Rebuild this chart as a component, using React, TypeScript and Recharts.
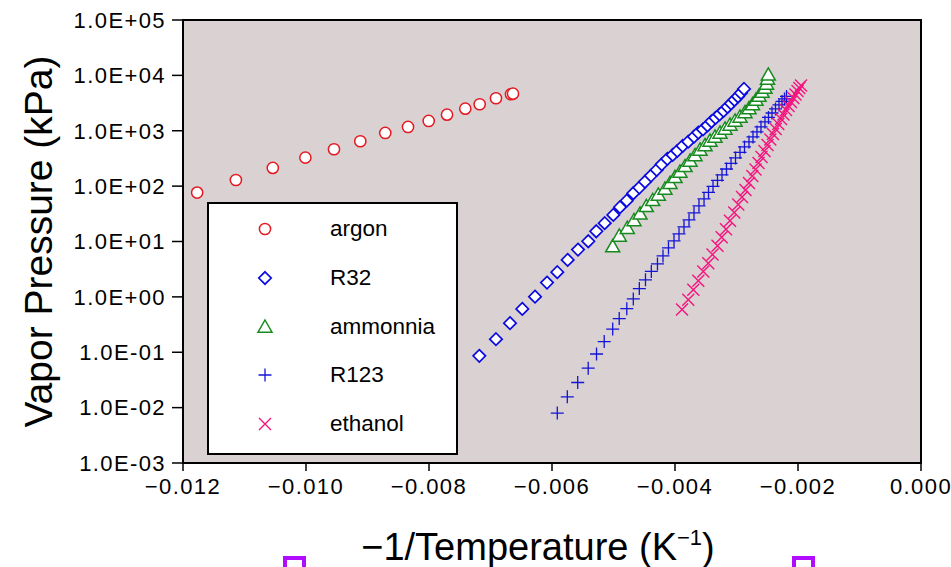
import React from 'react'
import { ScatterChart, Scatter, XAxis, YAxis, ReferenceArea, Legend } from 'recharts'

// 蒸気圧 vs -1/T（片対数）
const FONT = '"Liberation Sans", Arial, Helvetica, sans-serif'

const X_TICKS = [-0.012, -0.01, -0.008, -0.006, -0.004, -0.002, 0]
const Y_TICKS = [1e-3, 1e-2, 1e-1, 1, 1e1, 1e2, 1e3, 1e4, 1e5]

const argonX = [-0.01177, -0.01114, -0.01054, -0.01001, -0.009545, -0.009117, -0.008711, -0.008341, -0.008005, -0.007707, -0.00741, -0.007176, -0.006911, -0.006667, -0.006634]
const argonP = [76.4, 129, 213, 327, 463, 646, 912, 1171, 1503, 1953, 2506, 3009, 3860, 4560, 4674]

const r32X = [-0.007182, -0.006911, -0.006683, -0.006483, -0.006276, -0.006081, -0.005914, -0.005745, -0.005577, -0.00541, -0.00528, -0.005143, -0.005003, -0.004894, -0.004785, -0.004678, -0.00458, -0.004488, -0.00439, -0.004298, -0.004216, -0.004125, -0.004037, -0.003963, -0.003875, -0.003784, -0.003691, -0.003621, -0.003545, -0.003472, -0.003407, -0.003341, -0.003276, -0.003211, -0.003146, -0.003089, -0.003033, -0.002976, -0.002927, -0.002878]
const r32P = [0.0861, 0.172, 0.335, 0.607, 1.01, 1.81, 2.79, 4.65, 7.14, 10.1, 15.3, 21.4, 30.2, 41.6, 54.7, 74.4, 94, 120, 155, 196, 248, 310, 366, 432, 532, 635, 783, 925, 1055, 1247, 1472, 1702, 1969, 2277, 2690, 3110, 3597, 4159, 4810, 5685]

const ammoniaX = [-0.005013, -0.004906, -0.004776, -0.004667, -0.004569, -0.004467, -0.004363, -0.004272, -0.004163, -0.004081, -0.004, -0.003919, -0.003837, -0.003756, -0.003675, -0.003593, -0.003512, -0.003431, -0.00335, -0.003268, -0.003187, -0.003106, -0.003024, -0.002943, -0.002862, -0.002797, -0.00274, -0.002683, -0.002634, -0.002585, -0.002537, -0.002512, -0.002496, -0.002483]
const ammoniaP = [8.09, 12.6, 17.4, 24.0, 31.5, 43.0, 55.2, 69.3, 88.9, 113, 144, 180, 227, 285, 358, 450, 543, 655, 773, 912, 1077, 1273, 1503, 1775, 2140, 2527, 2984, 3597, 4246, 5012, 5929, 7000, 8610, 10200]

const r123X = [-0.005914, -0.005751, -0.005582, -0.005411, -0.005276, -0.005151, -0.005013, -0.004907, -0.004784, -0.004678, -0.00458, -0.00448, -0.004385, -0.004285, -0.004195, -0.004106, -0.004016, -0.003935, -0.003854, -0.003772, -0.003691, -0.00361, -0.003528, -0.003455, -0.003382, -0.003309, -0.003236, -0.003163, -0.003089, -0.003016, -0.002943, -0.00287, -0.002797, -0.002732, -0.002667, -0.002602, -0.002537, -0.00248, -0.002423, -0.002366, -0.002309, -0.00226, -0.00222, -0.002187]
const r123P = [0.00796, 0.0157, 0.0284, 0.0516, 0.0929, 0.156, 0.262, 0.406, 0.612, 0.92, 1.41, 2.03, 2.88, 3.94, 5.5, 7.66, 10.3, 13.7, 18.4, 24.5, 32.8, 44.0, 58.7, 76.9, 98.8, 127, 159, 204, 257, 323, 406, 510, 628, 773, 951, 1171, 1442, 1738, 2094, 2477, 2924, 3381, 3750, 4159]

const ethanolX = [-0.003886, -0.003784, -0.003702, -0.003621, -0.00354, -0.003459, -0.00339, -0.003309, -0.003241, -0.003171, -0.003106, -0.003036, -0.002971, -0.00291, -0.002854, -0.002797, -0.002743, -0.002691, -0.002642, -0.002593, -0.002545, -0.002496, -0.00245, -0.002407, -0.002363, -0.00232, -0.002276, -0.002236, -0.002195, -0.002154, -0.002114, -0.002076, -0.002041, -0.002008, -0.001979, -0.001951]
const ethanolP = [0.59, 0.883, 1.34, 1.96, 2.86, 4.06, 5.81, 8.4, 11.9, 16.7, 23.7, 33.5, 46.8, 63.8, 85.4, 114, 153, 200, 262, 337, 432, 555, 697, 875, 1077, 1327, 1633, 1968, 2371, 2805, 3311, 3908, 4519, 5228, 5929, 6577]

type Kind = 'circle' | 'diamond' | 'triangle' | 'plus' | 'cross'

const zip = (xs: number[], ps: number[]) => xs.map((x, i) => ({ x, y: ps[i] }))

const SERIES: { name: string; kind: Kind; color: string; data: { x: number; y: number }[] }[] = [
  { name: 'argon',    kind: 'circle',   color: '#e41a22', data: zip(argonX, argonP) },
  { name: 'R32',      kind: 'diamond',  color: '#0a0ae0', data: zip(r32X, r32P) },
  { name: 'ammonnia', kind: 'triangle', color: '#168a1e', data: zip(ammoniaX, ammoniaP) },
  { name: 'R123',     kind: 'plus',     color: '#1414d8', data: zip(r123X, r123P) },
  { name: 'ethanol',  kind: 'cross',    color: '#f5147e', data: zip(ethanolX, ethanolP) },
]

function Marker({ kind, color, cx, cy }: { kind: Kind; color: string; cx: number; cy: number }) {
  if (cx == null || cy == null || isNaN(cx) || isNaN(cy)) return null
  switch (kind) {
    case 'circle':
      return <circle cx={cx} cy={cy} r={5.6} fill="#fff" stroke={color} strokeWidth={1.5} />
    case 'diamond':
      return <path d={`M${cx},${cy - 6.2}L${cx + 6.2},${cy}L${cx},${cy + 6.2}L${cx - 6.2},${cy}Z`} fill="#fff" stroke={color} strokeWidth={1.7} />
    case 'triangle':
      return <path d={`M${cx},${cy - 7}L${cx + 7},${cy + 5.2}L${cx - 7},${cy + 5.2}Z`} fill="#fff" stroke={color} strokeWidth={1.5} />
    case 'plus':
      return <path d={`M${cx - 6.5},${cy}H${cx + 6.5}M${cx},${cy - 6.5}V${cy + 6.5}`} stroke={color} strokeWidth={1.3} fill="none" />
    default:
      return <path d={`M${cx - 6},${cy - 6}L${cx + 6},${cy + 6}M${cx - 6},${cy + 6}L${cx + 6},${cy - 6}`} stroke={color} strokeWidth={1.4} fill="none" />
  }
}

const fmtY = (v: number) => {
  const e = Math.round(Math.log10(v))
  return `1.0E${e < 0 ? '-' : '+'}${String(Math.abs(e)).padStart(2, '0')}`
}
const fmtX = (v: number) => (v === 0 ? '0.000' : '\u2212' + Math.abs(v).toFixed(3))

const renderLegend = () => (
  <div style={{ width: 251, height: 253, boxSizing: 'border-box', border: '2px solid #000', background: '#fff', fontFamily: FONT }}>
    {SERIES.map((s, i) => (
      <div key={s.name} style={{ position: 'absolute', left: 0, top: 27 + i * 48.8 - 14, height: 28, width: 251, display: 'flex', alignItems: 'center' }}>
        <svg width={20} height={20} style={{ position: 'absolute', left: 48 }}>
          <Marker kind={s.kind} color={s.color} cx={10} cy={10} />
        </svg>
        <span style={{ position: 'absolute', left: 123, fontSize: 22.5, color: '#000', lineHeight: '28px' }}>{s.name}</span>
      </div>
    ))}
  </div>
)

export default function App() {
  return (
    <div style={{ position: 'absolute', left: 0, top: 0, width: 951, height: 567, background: '#fff', fontFamily: FONT, overflow: 'hidden' }}>
      <ScatterChart width={951} height={567} margin={{ top: 20, right: 30, bottom: 0, left: 0 }} style={{ fontFamily: FONT }}>
        <XAxis
          type="number"
          dataKey="x"
          domain={[-0.012, 0]}
          ticks={X_TICKS}
          tickFormatter={fmtX}
          height={104}
          allowDataOverflow
          axisLine={{ stroke: '#000', strokeWidth: 2 }}
          tickLine={{ stroke: '#000', strokeWidth: 1.5 }}
          tickSize={8}
          tickMargin={7}
          tick={{ fill: '#000', fontSize: 22, letterSpacing: 1.4 }}
          label={({ viewBox }: any) => (
            <text x={viewBox.x + viewBox.width / 2 - 14} y={viewBox.y + 97} textAnchor="middle" fontSize={38} fill="#000" fontFamily={FONT}>
              {'\u22121/Temperature (K'}
              <tspan fontSize={22} dy={-15}>{'\u22121'}</tspan>
              <tspan dy={15}>)</tspan>
            </text>
          )}
        />
        <YAxis
          type="number"
          dataKey="y"
          scale="log"
          domain={[1e-3, 1e5]}
          ticks={Y_TICKS}
          tickFormatter={fmtY}
          width={183}
          allowDataOverflow
          axisLine={{ stroke: '#000', strokeWidth: 2 }}
          tickLine={{ stroke: '#000', strokeWidth: 1.5 }}
          tickSize={11}
          tickMargin={6}
          tick={{ fill: '#000', fontSize: 22, letterSpacing: 1.4 }}
          label={({ viewBox }: any) => (
            <text x={52} y={viewBox.y + viewBox.height / 2} transform={`rotate(-90 52 ${viewBox.y + viewBox.height / 2})`} textAnchor="middle" fontSize={39} fill="#000" fontFamily={FONT}>
              Vapor Pressure (kPa)
            </text>
          )}
        />
        <ReferenceArea x1={-0.012} x2={0} y1={1e-3} y2={1e5} fill="#d9d1d2" fillOpacity={1} stroke="#000" strokeWidth={2} ifOverflow="visible" />
        {SERIES.map((s) => (
          <Scatter
            key={s.name}
            name={s.name}
            data={s.data}
            isAnimationActive={false}
            shape={(p: any) => <Marker kind={s.kind} color={s.color} cx={p.cx} cy={p.cy} />}
          />
        ))}
        <Legend
          layout="vertical"
          align="center"
          verticalAlign="middle"
          content={renderLegend}
          wrapperStyle={{ left: 207, top: 202, width: 251, height: 253 }}
        />
      </ScatterChart>
      <div style={{ position: 'absolute', left: 283, top: 556, width: 23, height: 20, boxSizing: 'border-box', border: '4px solid #b10cff' }} />
      <div style={{ position: 'absolute', left: 792, top: 556, width: 23, height: 20, boxSizing: 'border-box', border: '4px solid #b10cff' }} />
    </div>
  )
}
